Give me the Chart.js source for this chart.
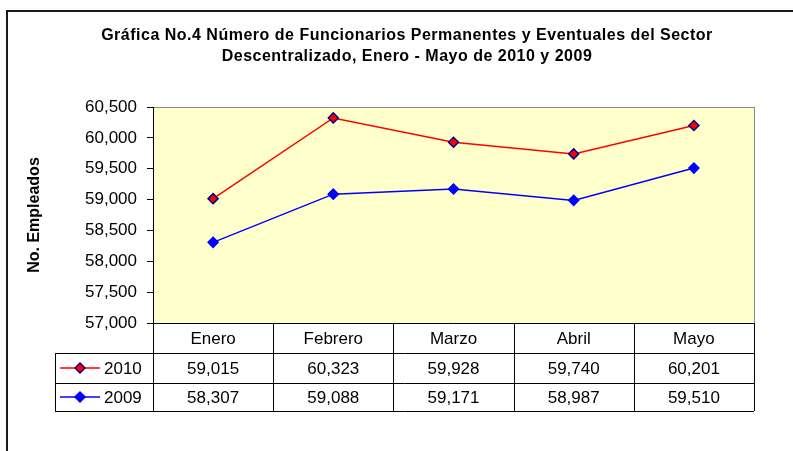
<!DOCTYPE html>
<html>
<head>
<meta charset="utf-8">
<style>
  html, body { margin: 0; padding: 0; background: #fff; }
  #wrap { width: 793px; height: 451px; }
</style>
</head>
<body>
<div id="wrap"><canvas id="Grafica" width="793" height="451"></canvas></div>
<script src="https://cdn.jsdelivr.net/npm/chart.js"></script>
<script>
// datos
const meses = ["Enero", "Febrero", "Marzo", "Abril", "Mayo"];
const serie2010 = [59015, 60323, 59928, 59740, 60201];
const serie2009 = [58307, 59088, 59171, 58987, 59510];
const titulo = ["Gráfica No.4 Número de Funcionarios Permanentes y Eventuales del Sector",
                "Descentralizado, Enero - Mayo de 2010 y 2009"];
const ejeY = { min: 57000, max: 60500, paso: 500 };

const fuente = "'Liberation Sans', Arial, sans-serif";
const fmt = v => v.toLocaleString('en-US');

// fondo, marco, titulo y tabla de datos
const extras = {
  id: 'extras',
  beforeDraw(chart) {
    const {ctx, chartArea: a} = chart;
    ctx.save();
    ctx.fillStyle = '#fff';
    ctx.fillRect(0, 0, chart.width, chart.height);
    ctx.fillStyle = '#FFFFCC';
    ctx.fillRect(a.left, a.top, a.right - a.left, a.bottom - a.top);
    // borde del area
    ctx.strokeStyle = '#8c8c8c';
    ctx.lineWidth = 1;
    ctx.strokeRect(a.left + 0.5, a.top + 0.5, a.right - a.left, a.bottom - a.top);
    // marco exterior
    ctx.strokeStyle = '#1a1a1a';
    ctx.lineWidth = 2;
    ctx.strokeRect(7, 11, 800, 460);
    // titulo
    ctx.fillStyle = '#000';
    ctx.font = 'bold 16px ' + fuente;
    ctx.letterSpacing = '0.5px';
    ctx.textAlign = 'center';
    ctx.textBaseline = 'middle';
    ctx.fillText(titulo[0], 407, 36);
    ctx.fillText(titulo[1], 407, 57);
    ctx.restore();
  },
  afterDraw(chart) {
    const {ctx, chartArea: a} = chart;
    const x = chart.scales.x;
    const n = meses.length;
    const w = (a.right - a.left) / n;
    const filas = [a.bottom, a.bottom + 30, a.bottom + 60, a.bottom + 88];
    const izq = 55;
    ctx.save();
    ctx.strokeStyle = '#000';
    ctx.lineWidth = 1;
    ctx.beginPath();
    // lineas horizontales
    ctx.moveTo(a.left, filas[0] + 0.5); ctx.lineTo(a.right, filas[0] + 0.5);
    for (let r = 1; r < filas.length; r++) {
      ctx.moveTo(izq, filas[r] + 0.5); ctx.lineTo(a.right, filas[r] + 0.5);
    }
    // lineas verticales
    ctx.moveTo(izq + 0.5, filas[1]); ctx.lineTo(izq + 0.5, filas[3]);
    for (let i = 0; i <= n; i++) {
      const px = Math.round(a.left + i * w) + 0.5;
      ctx.moveTo(px, filas[0]); ctx.lineTo(px, filas[3]);
    }
    ctx.stroke();

    ctx.fillStyle = '#000';
    ctx.font = '17px ' + fuente;
    ctx.textAlign = 'center';
    ctx.textBaseline = 'middle';
    meses.forEach((m, i) => {
      const cx = x.getPixelForValue(i);
      ctx.fillText(m, cx, (filas[0] + filas[1]) / 2 + 1);
      ctx.fillText(fmt(serie2010[i]), cx, (filas[1] + filas[2]) / 2 + 1);
      ctx.fillText(fmt(serie2009[i]), cx, (filas[2] + filas[3]) / 2 + 1);
    });

    // leyenda dentro de la tabla
    chart.data.datasets.forEach((ds, k) => {
      const cy = (filas[k + 1] + filas[k + 2]) / 2;
      ctx.strokeStyle = ds.borderColor;
      ctx.lineWidth = 1.5;
      ctx.beginPath();
      ctx.moveTo(60, cy); ctx.lineTo(100, cy);
      ctx.stroke();
      ctx.beginPath();
      ctx.moveTo(80, cy - 5); ctx.lineTo(85, cy); ctx.lineTo(80, cy + 5); ctx.lineTo(75, cy);
      ctx.closePath();
      ctx.fillStyle = ds.pointBackgroundColor;
      ctx.fill();
      ctx.strokeStyle = ds.pointBorderColor;
      ctx.stroke();
      ctx.fillStyle = '#000';
      ctx.textAlign = 'left';
      ctx.fillText(ds.label, 104, cy + 1);
    });
    ctx.restore();
  }
};

new Chart(document.getElementById("Grafica"), {
  type: "line",
  data: {
    labels: meses,
    datasets: [
      {
        label: "2010",
        data: serie2010,
        borderColor: '#FF0000',
        borderWidth: 1.5,
        pointStyle: 'rectRot',
        pointRadius: 5,
        pointBackgroundColor: '#FF0000',
        pointBorderColor: '#000080',
        pointBorderWidth: 1.5,
        tension: 0
      },
      {
        label: "2009",
        data: serie2009,
        borderColor: '#0000FF',
        borderWidth: 1.5,
        pointStyle: 'rectRot',
        pointRadius: 5,
        pointBackgroundColor: '#0000FF',
        pointBorderColor: '#0000FF',
        pointBorderWidth: 1.5,
        tension: 0
      }
    ]
  },
  options: {
    responsive: false,
    animation: false,
    layout: { padding: { left: 0, right: 39, top: 107, bottom: 128 } },
    plugins: {
      legend: { display: false },
      title: { display: false },
      tooltip: { enabled: false }
    },
    scales: {
      x: {
        type: 'category',
        offset: true,
        display: false
      },
      y: {
        min: ejeY.min,
        max: ejeY.max,
        afterFit(scale) { scale.width = 153; },
        ticks: {
          stepSize: ejeY.paso,
          color: '#000',
          padding: 10,
          font: { family: fuente, size: 17 },
          callback: v => fmt(v)
        },
        grid: {
          drawOnChartArea: false,
          drawTicks: true,
          tickLength: 6,
          color: '#000'
        },
        border: { color: '#000', width: 1 },
        title: {
          display: true,
          text: 'No. Empleados',
          color: '#000',
          font: { family: fuente, size: 16, weight: 'bold' },
          padding: { top: 25, bottom: 0 }
        }
      }
    }
  },
  plugins: [extras]
});
</script>
</body>
</html>
